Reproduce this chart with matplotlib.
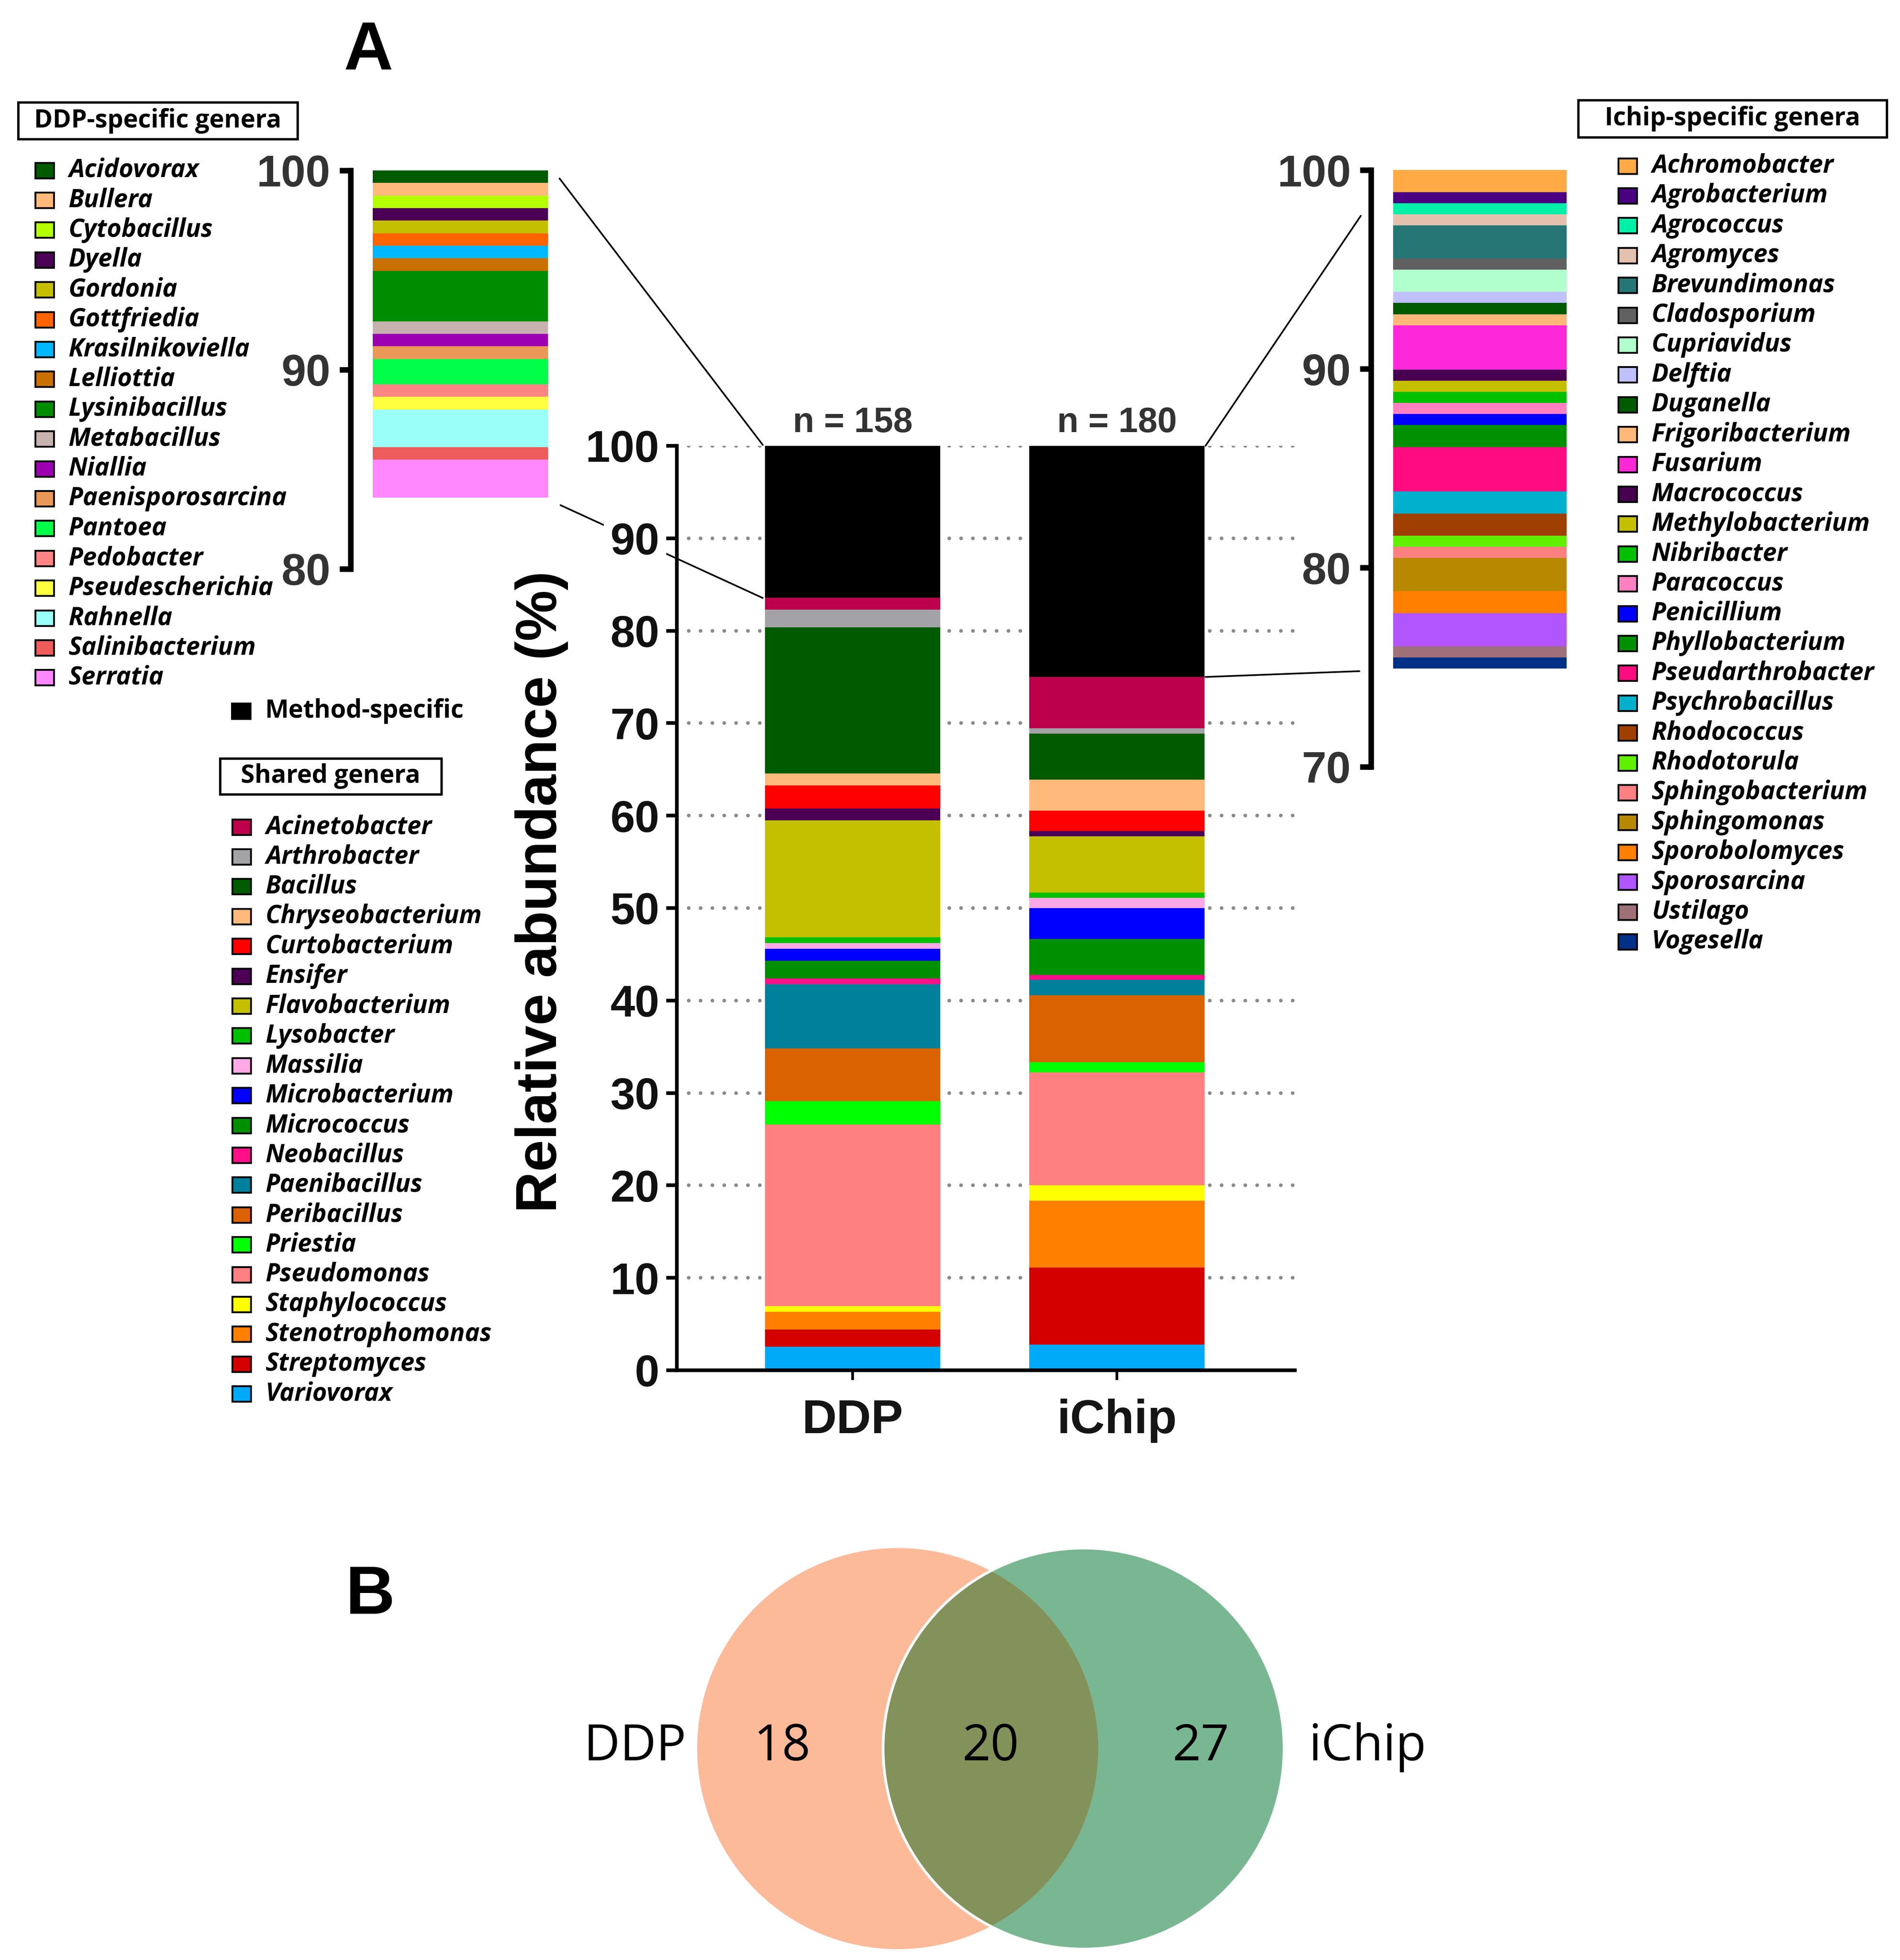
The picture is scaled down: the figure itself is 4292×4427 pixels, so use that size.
import matplotlib
matplotlib.use('Agg')
import matplotlib.pyplot as plt
import numpy as np
from matplotlib.patches import Rectangle, Circle, ConnectionPatch
from matplotlib.transforms import blended_transform_factory

plt.rcParams['font.family'] = ['Liberation Sans', 'DejaVu Sans']
plt.rcParams['font.weight'] = 'bold'

KEY_FONT = ['Open Sans', 'DejaVu Sans']

# ---- data -------------------------------------------------------------
methods = ['DDP', 'iChip']
n_isolates = [158, 180]
method_specific = [16.46, 25.00]

shared_genera = ['Acinetobacter', 'Arthrobacter', 'Bacillus', 'Chryseobacterium',
                 'Curtobacterium', 'Ensifer', 'Flavobacterium', 'Lysobacter',
                 'Massilia', 'Microbacterium', 'Micrococcus', 'Neobacillus',
                 'Paenibacillus', 'Peribacillus', 'Priestia', 'Pseudomonas',
                 'Staphylococcus', 'Stenotrophomonas', 'Streptomyces', 'Variovorax']
shared_colors = ['#BC004B', '#A3A3A7', '#005A00', '#FFBA7B', '#FF0000', '#4B0055',
                 '#C4C000', '#00C000', '#FFAAE6', '#0000FF', '#008F00', '#FF1089',
                 '#00809A', '#DA6200', '#00FF00', '#FF8080', '#FFFF00', '#FF8000',
                 '#D40000', '#00AAF8']
ddp_shared = [1.27, 1.90, 15.82, 1.27, 2.53, 1.27, 12.66, 0.63, 0.63, 1.27,
              1.90, 0.63, 6.96, 5.70, 2.53, 19.62, 0.63, 1.90, 1.90, 2.53]
ichip_shared = [5.56, 0.56, 5.00, 3.33, 2.22, 0.56, 6.11, 0.56, 1.11, 3.33,
                3.89, 0.56, 1.67, 7.22, 1.11, 12.22, 1.67, 7.22, 8.33, 2.78]

ddp_only = ['Acidovorax', 'Bullera', 'Cytobacillus', 'Dyella', 'Gordonia',
            'Gottfriedia', 'Krasilnikoviella', 'Lelliottia', 'Lysinibacillus',
            'Metabacillus', 'Niallia', 'Paenisporosarcina', 'Pantoea', 'Pedobacter',
            'Pseudescherichia', 'Rahnella', 'Salinibacterium', 'Serratia']
ddp_only_colors = ['#005A00', '#FFBA7B', '#B4FF00', '#4B0055', '#C4C000', '#FF6400',
                   '#00B8FF', '#C87000', '#008C00', '#C8B2B0', '#9C00B0', '#EA9858',
                   '#00FF48', '#FF8585', '#FFFF40', '#9AFFF8', '#EE5C5C', '#FF88FF']
ddp_only_values = [0.63, 0.63, 0.63, 0.63, 0.63, 0.63, 0.63, 0.63, 2.53,
                   0.63, 0.63, 0.63, 1.27, 0.63, 0.63, 1.90, 0.63, 1.90]

ichip_only = ['Achromobacter', 'Agrobacterium', 'Agrococcus', 'Agromyces',
              'Brevundimonas', 'Cladosporium', 'Cupriavidus', 'Delftia', 'Duganella',
              'Frigoribacterium', 'Fusarium', 'Macrococcus', 'Methylobacterium',
              'Nibribacter', 'Paracoccus', 'Penicillium', 'Phyllobacterium',
              'Pseudarthrobacter', 'Psychrobacillus', 'Rhodococcus', 'Rhodotorula',
              'Sphingobacterium', 'Sphingomonas', 'Sporobolomyces', 'Sporosarcina',
              'Ustilago', 'Vogesella']
ichip_only_colors = ['#FFAA45', '#4A0080', '#00F0A8', '#E4C0AE', '#267676', '#606060',
                     '#B0FFCC', '#C0C0FF', '#005A00', '#FFB77A', '#FF28D8', '#480050',
                     '#C4C000', '#00C000', '#FF80C0', '#0000FF', '#009000', '#FF0C80',
                     '#00B0CC', '#A04000', '#60F000', '#FF8080', '#B88800', '#FF8000',
                     '#B055FF', '#A07078', '#003088']
ichip_only_values = [1.11, 0.56, 0.56, 0.56, 1.67, 0.56, 1.11, 0.56, 0.56, 0.56,
                     2.22, 0.56, 0.56, 0.56, 0.56, 0.56, 1.11, 2.22, 1.11, 1.11,
                     0.56, 0.56, 1.67, 1.11, 1.67, 0.56, 0.56]

venn_labels = ['DDP', 'iChip']
venn_counts = [18, 20, 27]  # DDP only, shared, iChip only
venn_colors = ['#FDBA99', '#79B792', '#82925A']

# ---- layout helpers (pixel positions on the 4292 x 4427 canvas) -------
W, H = 4292, 4427
fig = plt.figure(figsize=(W / 300, H / 300), dpi=300)


def fx(px):
    return px / W


def fy(py):
    return 1 - py / H


def box(l, t, r, b):
    return [fx(l), fy(b), fx(r) - fx(l), fy(t) - fy(b)]


# ---- main stacked bars ------------------------------------------------
ax = fig.add_axes(box(1529, 1007, 2925, 3095))
ax.patch.set_visible(False)
xpos = np.arange(len(methods))
bw = 0.663
bottom = np.zeros(len(methods))
for col, d, i in zip(shared_colors[::-1], ddp_shared[::-1], ichip_shared[::-1]):
    ax.bar(xpos, [d, i], bw, bottom=bottom, color=col, linewidth=0, zorder=2)
    bottom += [d, i]
ax.bar(xpos, method_specific, bw, bottom=bottom, color='black', linewidth=0, zorder=2)

ax.set_xlim(-0.665, 1.673)
ax.set_ylim(0, 100)
ax.set_yticks(range(0, 101, 10))
ax.set_xticks(xpos, methods)
ax.set_axisbelow(True)
ax.grid(axis='y', linestyle=(0, (0.01, 3.2)), linewidth=2, color='#8a8a8a',
        dash_capstyle='round')
for s in ['top', 'right']:
    ax.spines[s].set_visible(False)
for s in ['left', 'bottom']:
    ax.spines[s].set_linewidth(2)
ax.tick_params(axis='y', length=6, width=2, pad=3.4, labelsize=24, labelcolor='#111111')
ax.tick_params(axis='x', length=5.3, width=1.5, pad=10, labelsize=26, labelcolor='#151515')
for lab in ax.get_yticklabels():
    lab.set_bbox(dict(facecolor='white', edgecolor='none', boxstyle='square,pad=0.15'))
for x, n in zip(xpos, n_isolates):
    ax.text(x, 101.5, f'n = {n}', ha='center', va='baseline', fontsize=19,
            color='#333333', clip_on=False)
fig.text(fx(1223), fy(2014), 'Relative abundance (%)', rotation=90, ha='center',
         va='center', fontsize=31)


# ---- zoomed insets of the method-specific part -------------------------
def inset(rect, low, ticks, names_vals, colors):
    a = fig.add_axes(rect)
    a.patch.set_visible(False)
    base = 100 - sum(names_vals)
    for col, v in zip(colors[::-1], names_vals[::-1]):
        a.bar(0.556, v, 0.888, bottom=base, color=col, linewidth=0)
        base += v
    a.set_xlim(0, 1)
    a.set_ylim(low, 100)
    a.set_yticks(ticks)
    a.set_xticks([])
    for s in ['top', 'right', 'bottom']:
        a.spines[s].set_visible(False)
    a.spines['left'].set_linewidth(3)
    a.tick_params(axis='y', length=6, width=3, pad=4.8, labelsize=24, labelcolor='#333333')
    return a


axL = inset(box(792, 385, 1238, 1285), 80, [80, 90, 100], ddp_only_values, ddp_only_colors)
axR = inset(box(3097, 384, 3539, 1731.5), 70, [70, 80, 90, 100], ichip_only_values,
            ichip_only_colors)


def connect(xy_main, a, xy_inset):
    con = ConnectionPatch(xyA=xy_main, coordsA=ax.transData, xyB=xy_inset,
                          coordsB=blended_transform_factory(a.transAxes, a.transData),
                          color='black', linewidth=0.9, zorder=-1)
    fig.add_artist(con)


connect((-0.34, 100.1), axL, (1.058, 99.6))
connect((-0.34, 100 - method_specific[0]), axL, (1.063, 83.2))
connect((1.335, 100.0), axR, (-0.052, 97.7))
connect((1.335, 100 - method_specific[1]), axR, (-0.059, 74.8))

# ---- keys ---------------------------------------------------------------
STEP = 67.4
KEY_SIZE = 13.6


def key_title(l, t, r, b, label):
    fig.patches.append(Rectangle((fx(l), fy(b)), fx(r) - fx(l), fy(t) - fy(b),
                                 transform=fig.transFigure, facecolor='white',
                                 edgecolor='black', linewidth=1.3))
    fig.text(fx((l + r) / 2), fy((t + b) / 2), label, ha='center', va='center',
             fontsize=KEY_SIZE, weight='bold', family=KEY_FONT)


def key_entries(xm, y0, names, colors, style='italic', edge='black'):
    for k, (name, col) in enumerate(zip(names, colors)):
        yc = y0 + k * STEP
        fig.patches.append(Rectangle((fx(xm), fy(yc + 17.5)), 42 / W, 35 / H,
                                     transform=fig.transFigure, facecolor=col,
                                     edgecolor=edge, linewidth=1.0))
        fig.text(fx(xm + 75), fy(yc), name, ha='left', va='center', fontsize=KEY_SIZE,
                 weight='bold', style=style, family=KEY_FONT)


key_title(41, 231, 672, 314, 'DDP-specific genera')
key_entries(80, 385, ddp_only, ddp_only_colors)

key_entries(524, 1606, ['Method-specific'], ['black'], style='normal')
key_title(497, 1713, 997, 1794, 'Shared genera')
key_entries(525, 1868, shared_genera, shared_colors)

key_title(3565, 226, 4262, 310, 'Ichip-specific genera')
key_entries(3656, 375, ichip_only, ichip_only_colors)

# ---- Venn diagram -------------------------------------------------------
R_PX = 453
axV = fig.add_axes(box(1237.75, 3479.5, 3237.75, 4419.5))
axV.set_xlim(-1000 / R_PX, 1000 / R_PX)
axV.set_ylim(-470 / R_PX, 470 / R_PX)
axV.axis('off')
d = 0.4636
left_c = Circle((-d, 0), 1, facecolor=venn_colors[0], edgecolor='none')
right_c = Circle((d, 0), 1, facecolor=venn_colors[1], edgecolor='none')
axV.add_patch(left_c)
axV.add_patch(right_c)
overlap = Circle((-d, 0), 1, facecolor=venn_colors[2], edgecolor='none')
axV.add_patch(overlap)
overlap.set_clip_path(right_c)
axV.add_patch(Circle((d, 0), 1, fill=False, edgecolor='white', linewidth=1.5))

vfont = dict(fontsize=27, weight='normal', family=KEY_FONT, va='baseline')
axV.text(-1.518, -0.0585, venn_labels[0], ha='right', **vfont)
axV.text(1.585, -0.0585, venn_labels[1], ha='left', **vfont)
for x, c in zip([-1.039, 0.0, 1.049], venn_counts):
    axV.text(x, -0.0585, str(c), ha='center', **vfont)

# ---- panel letters ------------------------------------------------------
fig.text(fx(776), fy(157), 'A', fontsize=37, ha='left', va='baseline')
fig.text(fx(781), fy(3645), 'B', fontsize=37, ha='left', va='baseline')

fig.savefig('out.png', dpi=300)
